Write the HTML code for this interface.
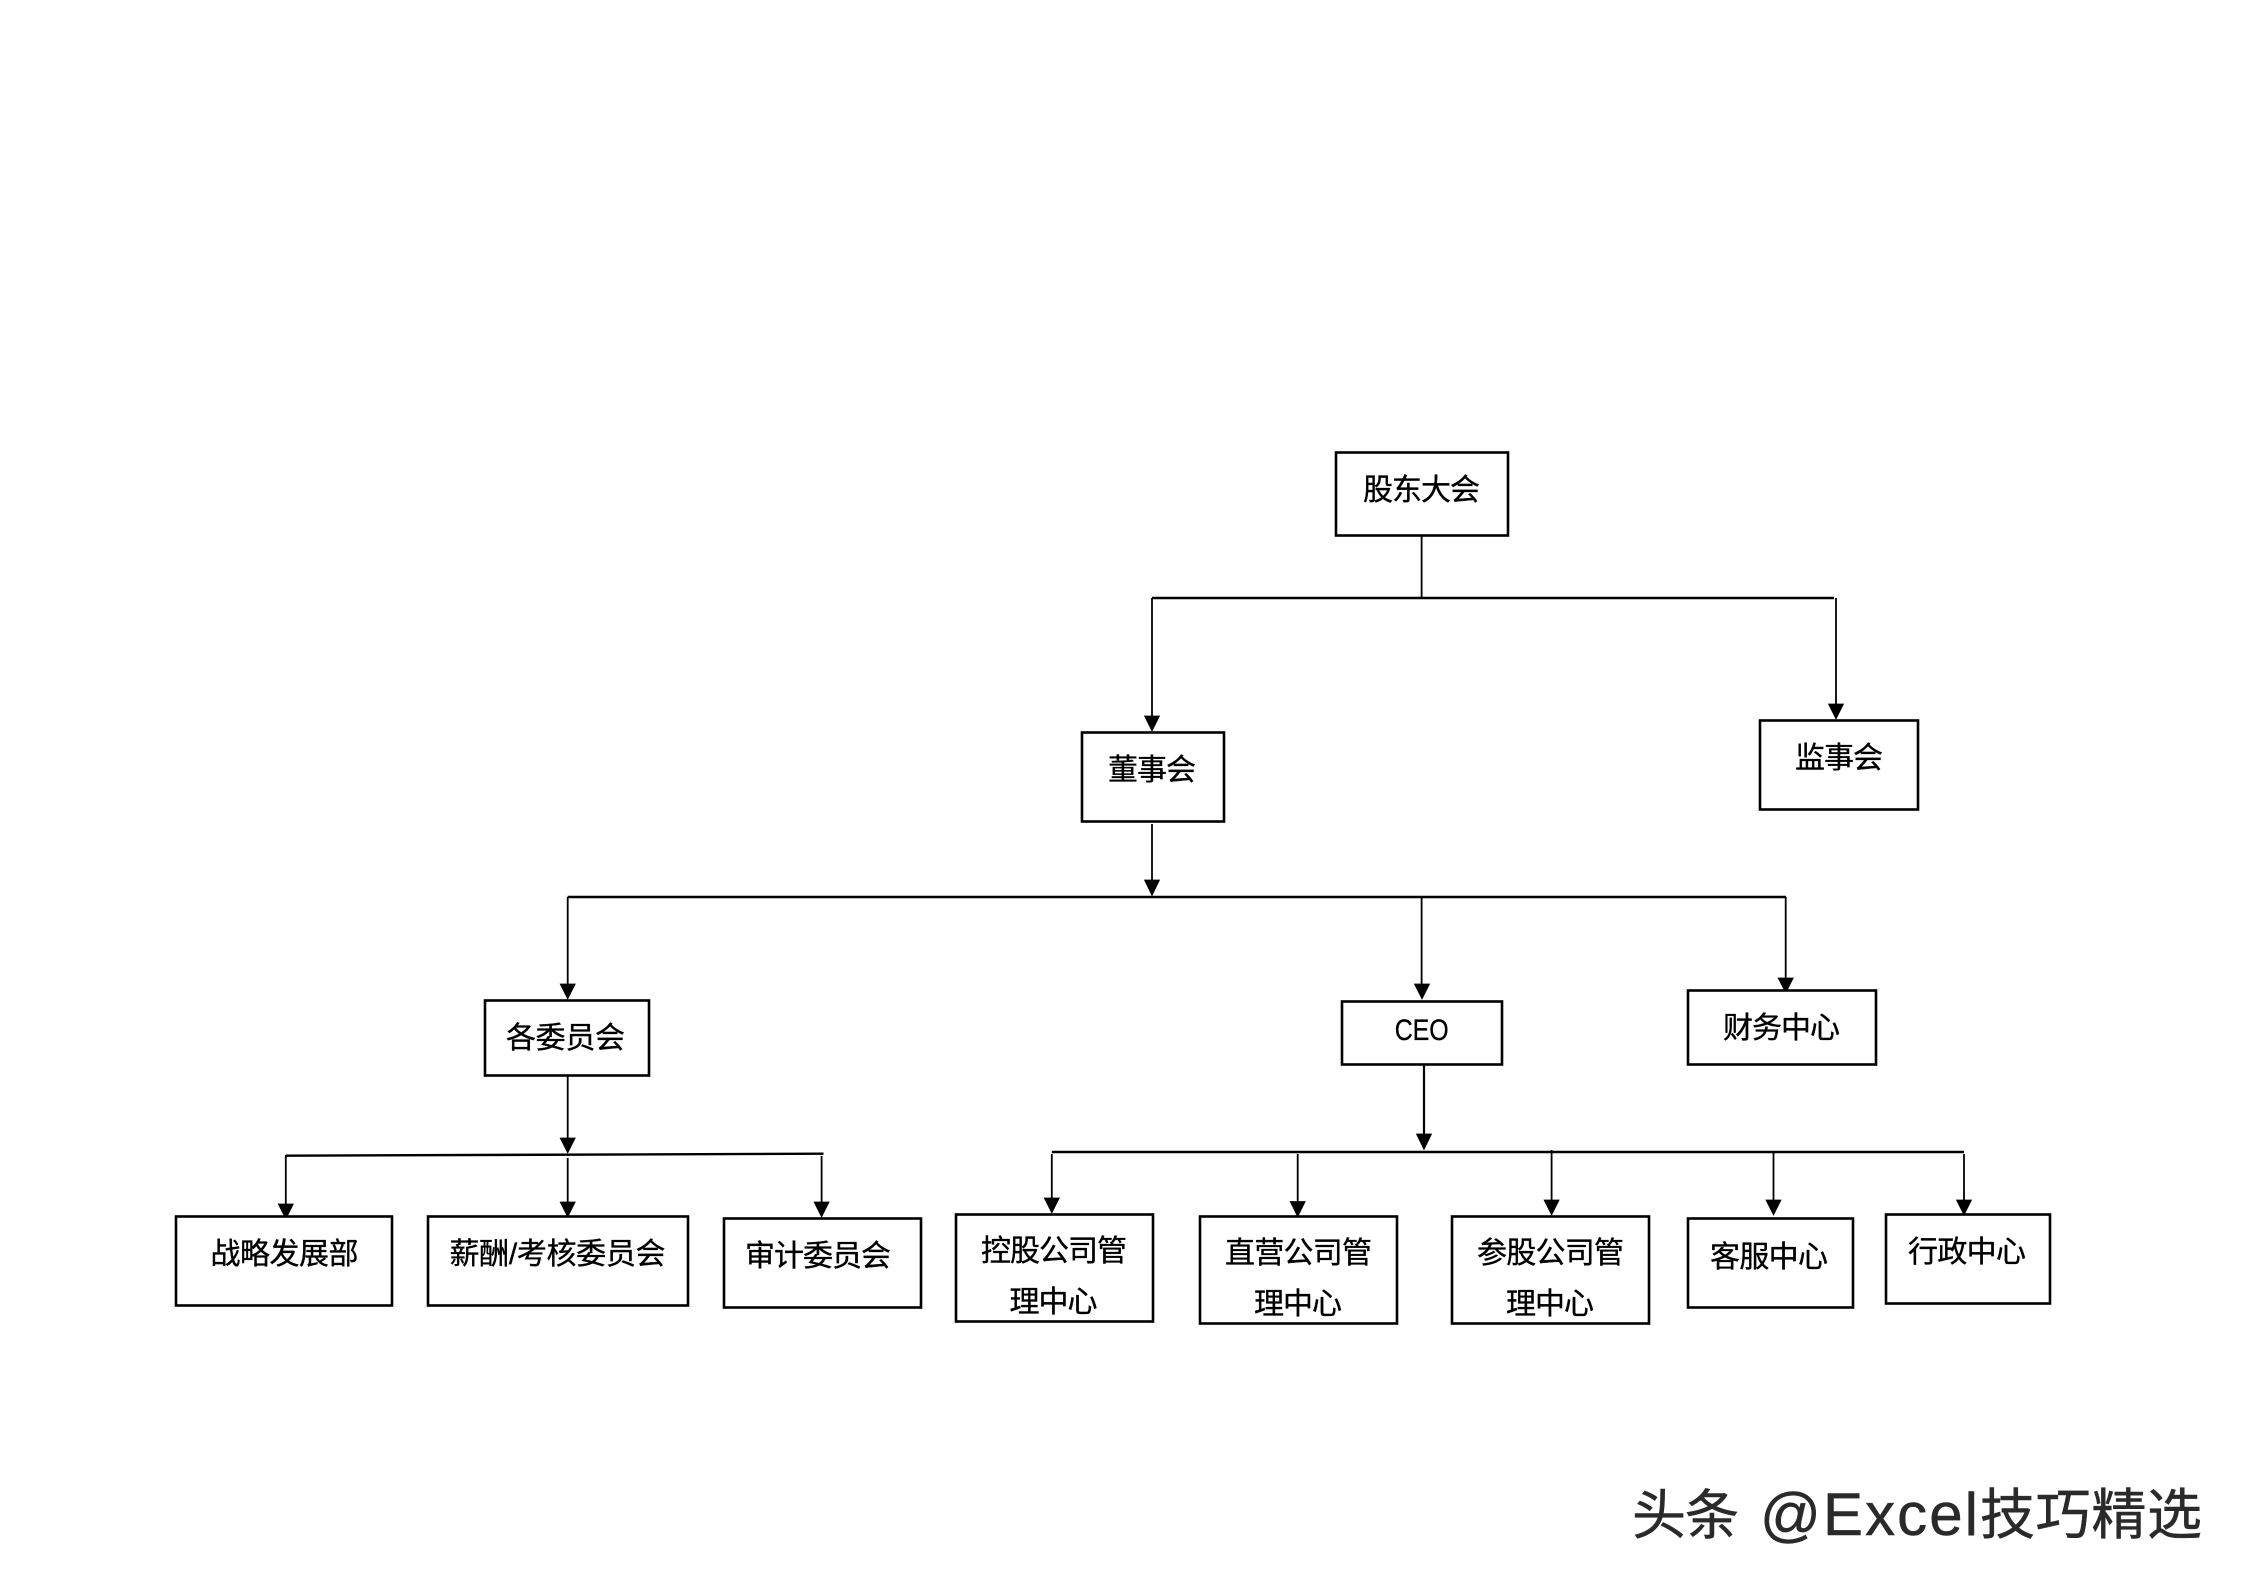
<!DOCTYPE html>
<html lang="zh">
<head>
<meta charset="utf-8">
<title>组织架构图</title>
<style>
html,body{margin:0;padding:0;background:#fff;width:2245px;height:1587px;overflow:hidden}
svg{display:block}
text{font-family:"Liberation Sans","Noto Sans CJK SC",sans-serif;font-size:30px;fill:#000;stroke:#000;stroke-width:.35px}
.b{fill:#fff;stroke:#000;stroke-width:2.6}
.h{stroke:#000;stroke-width:2.4;fill:none}
.v{stroke:#000;stroke-width:1.8;fill:none}
.a{fill:#000;stroke:#000;stroke-width:.8}
.w{fill:#2a2a2a;stroke:#2a2a2a;stroke-width:.5px}
</style>
</head>
<body>
<svg width="2245" height="1587" viewBox="0 0 2245 1587" xmlns="http://www.w3.org/2000/svg">
<rect width="2245" height="1587" fill="#fff"/>

<!-- connectors -->
<path class="v" d="M1421.6 536V598"/>
<path class="h" d="M1152 598H1834"/>
<path class="v" d="M1152 598V718M1836 598V706"/>
<path class="a" d="M1144.5 716H1159.5L1152 731ZM1828.5 704H1843.5L1836 719Z"/>

<path class="v" d="M1152 824V882"/>
<path class="a" d="M1144.5 880H1159.5L1152 895.5Z"/>
<path class="h" d="M567.7 897H1786"/>
<path class="v" d="M567.7 897V986M1421.6 897V986M1785.7 897V980"/>
<path class="a" d="M560.2 984H575.2L567.7 999ZM1414.5 984H1429.5L1422 999ZM1778.2 978H1793.2L1785.7 993Z"/>

<path class="v" d="M567.7 1076V1140"/>
<path class="a" d="M560.2 1138H575.2L567.7 1153Z"/>
<path d="M285.8 1155.7L823.5 1153.7" stroke="#000" stroke-width="2.4" fill="none"/>
<path class="v" d="M285.8 1155V1206M567.7 1158V1204M821.6 1156V1204"/>
<path class="a" d="M278.3 1204H293.3L285.8 1219ZM560.2 1202H575.2L567.7 1217ZM814.1 1202H829.1L821.6 1217Z"/>

<path d="M1424 1065V1136" stroke="#000" stroke-width="2.2" fill="none"/>
<path class="a" d="M1416.5 1134H1431.5L1424 1149.5Z"/>
<path class="h" d="M1051.8 1152H1964"/>
<path class="v" d="M1051.8 1154V1200M1297.7 1154V1203M1551.6 1150V1202M1773.5 1152V1202M1964 1154V1202"/>
<path class="a" d="M1044.3 1198H1059.3L1051.8 1213ZM1290.2 1201.5H1305.2L1297.7 1216.7ZM1544.1 1200H1559.1L1551.6 1215ZM1766 1200H1781L1773.5 1215ZM1956.5 1200H1971.5L1964 1215Z"/>

<!-- boxes -->
<rect class="b" x="1336" y="452.5" width="172" height="83"/>
<rect class="b" x="1082" y="732.5" width="142" height="89"/>
<rect class="b" x="1760" y="720.5" width="158" height="89"/>
<rect class="b" x="485" y="1000.5" width="164" height="75"/>
<rect class="b" x="1342" y="1001.5" width="160" height="63"/>
<rect class="b" x="1688" y="990.5" width="188" height="74"/>
<rect class="b" x="176" y="1216.5" width="216" height="89"/>
<rect class="b" x="428" y="1216.5" width="260" height="89"/>
<rect class="b" x="724" y="1218.5" width="197" height="89"/>
<rect class="b" x="956" y="1214.5" width="197" height="107"/>
<rect class="b" x="1200" y="1216.5" width="197" height="107"/>
<rect class="b" x="1452" y="1216.5" width="197" height="107"/>
<rect class="b" x="1688" y="1218.5" width="165" height="89"/>
<rect class="b" x="1886" y="1214.5" width="164" height="89"/>

<!-- labels -->
<text x="1363" y="500" textLength="117">股东大会</text>
<text x="1108" y="780" textLength="88">董事会</text>
<text x="1795" y="768" textLength="88">监事会</text>
<text x="506" y="1048" textLength="119">各委员会</text>
<text x="1394.7" y="1040" textLength="54" lengthAdjust="spacingAndGlyphs">CEO</text>
<text x="1723" y="1038" textLength="117">财务中心</text>
<text x="210.5" y="1264" textLength="148">战略发展部</text>
<text x="449.5" y="1264" textLength="216">薪酬/考核委员会</text>
<text x="745" y="1266" textLength="146">审计委员会</text>
<text x="981" y="1261" textLength="146">控股公司管</text>
<text x="1009.5" y="1312" textLength="88">理中心</text>
<text x="1225" y="1263" textLength="147">直营公司管</text>
<text x="1254" y="1314" textLength="88">理中心</text>
<text x="1477" y="1263" textLength="147">参股公司管</text>
<text x="1506" y="1314" textLength="88">理中心</text>
<text x="1710" y="1267" textLength="118">客服中心</text>
<text x="1908" y="1262" textLength="118">行政中心</text>

<!-- watermark -->
<text class="w" x="1632" y="1534" style="font-size:54px" textLength="107">头条</text>
<text class="w" x="1760" y="1535" style="font-size:60px" textLength="218">@Excel</text>
<text class="w" x="1980" y="1534" style="font-size:55px" textLength="222">技巧精选</text>
</svg>
</body>
</html>
